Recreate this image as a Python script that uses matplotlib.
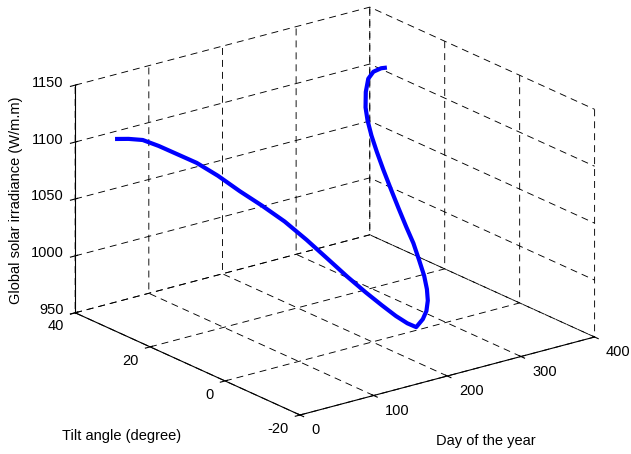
import matplotlib
matplotlib.use("Agg")
import matplotlib.pyplot as plt
import numpy as np
from mpl_toolkits.mplot3d import proj3d

# values
day = [1, 11, 21, 31, 41, 51, 61, 71, 81, 91, 101, 111, 121, 131, 141, 151,
       161, 171, 181, 191, 201, 211, 221, 231, 241, 251, 261, 271, 281, 291,
       301, 311, 321, 331, 341, 351, 361, 365]
tilt = [29.0, 27.9, 26.1, 23.8, 20.9, 17.6, 13.9, 10.0, 6.0, 2.0, -1.9, -5.6,
        -8.9, -11.8, -14.1, -15.9, -17.0, -17.4, -17.2, -16.2, -14.6, -12.4,
        -9.7, -6.4, -2.9, 1.0, 5.0, 9.0, 13.0, 16.7, 20.1, 23.1, 25.6, 27.5,
        28.8, 29.4, 29.3, 29.1]
irradiance = [1119, 1119, 1119, 1115.5, 1111, 1106.5, 1099, 1089.5, 1081,
              1071.5, 1059.5, 1046.5, 1034, 1023, 1013.5, 1005, 998.5, 994,
              999, 1003, 1008, 1013, 1019, 1026, 1034, 1041, 1049.5, 1058.5,
              1068, 1076.5, 1084, 1091, 1097, 1106, 1114, 1117.5, 1119, 1119]

day_ticks = [0, 100, 200, 300, 400]
tilt_ticks = [-20, 0, 20, 40]
irr_ticks = [950, 1000, 1050, 1100, 1150]

W, H = 631, 454

plt.rcParams["font.family"] = ["Liberation Sans", "DejaVu Sans"]
plt.rcParams["font.size"] = 10.5
plt.rcParams["axes.unicode_minus"] = False
plt.rcParams["grid.color"] = "black"
plt.rcParams["grid.linewidth"] = 0.65
plt.rcParams["grid.linestyle"] = (0, (5, 3.6))
plt.rcParams["lines.scale_dashes"] = False

fig = plt.figure(figsize=(W / 100, H / 100), dpi=100)
ax = fig.add_subplot(projection="3d", proj_type="ortho")
ax.view_init(elev=20.3, azim=-127.35)
ax.set_box_aspect((1, 1, 0.655))

ax.plot(day, tilt, irradiance, color="#0000ff", lw=3.0)

ax.set_xlim(0, 400)
ax.set_ylim(-20, 40)
ax.set_zlim(950, 1150)
ax.set_xticks(day_ticks)
ax.set_yticks(tilt_ticks)
ax.set_zticks(irr_ticks)
ax.set_xticklabels([])
ax.set_yticklabels([])
ax.set_zticklabels([])

for axis in (ax.xaxis, ax.yaxis, ax.zaxis):
    axis.set_pane_color((1, 1, 1, 0))
    axis.pane.set_edgecolor("none")
    axis.line.set_color("black")
    axis.line.set_linewidth(0.8)

# place the box where it sits in the reference: front-bottom corner and
# back-top corner
fig.canvas.draw()


def to_px(x, y, z):
    xs, ys, _ = proj3d.proj_transform(x, y, z, ax.get_proj())
    px, py = ax.transData.transform((xs, ys))
    return np.array([px, H - py])


f = to_px(0, -20, 950)
b = to_px(400, 40, 1150)
F = np.array([300.0, 415.0])
B = np.array([369.0, 7.0])
s = np.linalg.norm(F - B) / np.linalg.norm(f - b)
pos = ax.get_position()
c = np.array([(pos.x0 + pos.x1) / 2 * W, H - (pos.y0 + pos.y1) / 2 * H])
nc = F - s * (f - c)
w_px, h_px = pos.width * W * s, pos.height * H * s
ax.set_position([(nc[0] - w_px / 2) / W, 1 - (nc[1] + h_px / 2) / H,
                 w_px / W, h_px / H])
fig.canvas.draw()


def tick_text(pt, label, dx, dy, ha):
    fig.text((pt[0] + dx) / W, 1 - (pt[1] + dy) / H, label, ha=ha, va="center")


for d in day_ticks:
    tick_text(to_px(d, -20, 950), str(d), 11.5, 15.5, "left")
for t in tilt_ticks:
    tick_text(to_px(0, t, 950), str(t), -11.5, 13.7, "right")
for v in irr_ticks:
    tick_text(to_px(0, 40, v), str(v), -11.7, -2.5, "right")

fig.text(121.5 / W, 1 - 436 / H, "Tilt angle (degree)", ha="center", va="center")
fig.text(485.5 / W, 1 - 441.5 / H, "Day of the year", ha="center", va="center")
fig.text(16 / W, 1 - 200 / H, "Global solar irradiance (W/m.m)",
         ha="center", va="center", rotation=90)

fig.savefig("out.png", dpi=100)
